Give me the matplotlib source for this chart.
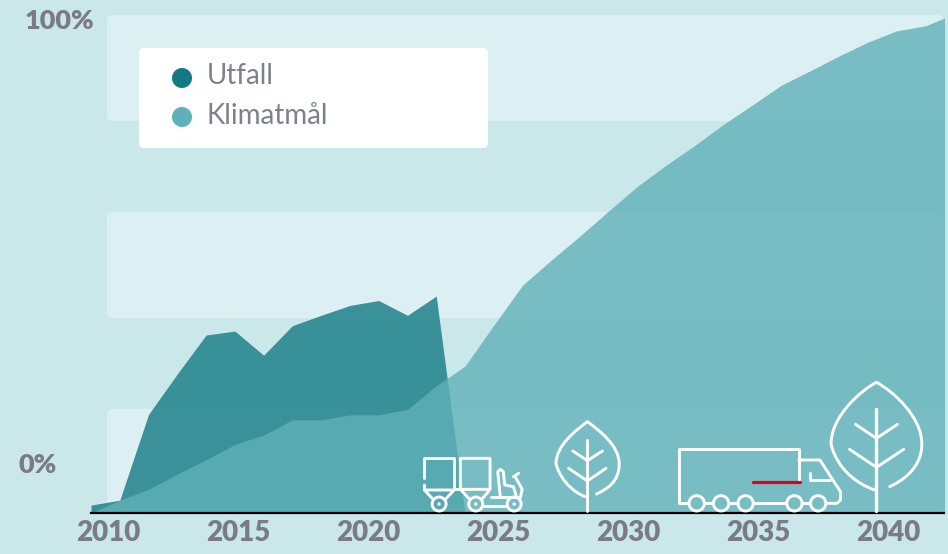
# -*- coding: utf-8 -*-
import matplotlib
matplotlib.use("Agg")
import matplotlib.pyplot as plt
from matplotlib.patches import Circle, FancyBboxPatch, PathPatch
from matplotlib.path import Path

# --- data ---
YEARS = list(range(2010, 2041))
UTFALL_YEARS = YEARS[:15]
UTFALL = [1.6, 2.6, 20.0, 28.2, 36.1, 36.9, 32.0, 38.0, 40.1, 42.1, 43.1, 40.1, 44.0, 0.0, 0.0]
KLIMATMAL = [0.0, 2.6, 4.8, 7.9, 10.8, 13.9, 15.8, 18.9, 18.9, 19.9, 19.9, 21.0, 25.8, 29.8,
             38.1, 46.2, 51.3, 56.2, 61.3, 66.3, 70.6, 74.6, 78.9, 82.8, 86.8, 89.7, 92.7,
             95.5, 97.8, 98.8, 101.2]
TICK_LABELS = ["2010", "2015", "2020", "2025", "2030", "2035", "2040"]
TICK_PX = [108, 238, 368, 498, 628, 758, 888]
LEGEND_LABELS = ["Utfall", "Klimatmål"]

# --- colours ---
BG = "#cae8ea"
BAND = "#dceff2"
C_UTFALL = "#137a84"
C_KLIMAT = "#5fb1b9"
C_TEXT = "#7a7b85"
C_LEGEND_TEXT = "#7c828b"
C_RED = "#e2001a"

W, H = 948, 554
AX_L, AX_R, AX_T, AX_B = 91, 944, 0, 513
PX_PER_YEAR = 28.77
PX_PER_PCT = 4.93

plt.rcParams["font.family"] = ["Lato", "DejaVu Sans"]

fig = plt.figure(figsize=(W / 100, H / 100), dpi=100, facecolor=BG)

# pixel canvas for bands, legend, labels and icons
bg_ax = fig.add_axes([0, 0, 1, 1], zorder=0)
bg_ax.set_xlim(0, W)
bg_ax.set_ylim(H, 0)
bg_ax.axis("off")

top_ax = fig.add_axes([0, 0, 1, 1], zorder=2)
top_ax.set_xlim(0, W)
top_ax.set_ylim(H, 0)
top_ax.axis("off")


def rounded(ax, x0, y0, x1, y1, color, r=6):
    ax.add_patch(FancyBboxPatch((x0 + r, y0 + r), x1 - x0 - 2 * r, y1 - y0 - 2 * r,
                                boxstyle=f"round,pad={r},rounding_size={r}",
                                fc=color, ec="none"))


for y0, y1 in [(15, 121), (212, 318), (409, 513)]:
    rounded(bg_ax, 107, y0, 944, y1, BAND)

# --- main chart ---
ax = fig.add_axes([AX_L / W, 1 - AX_B / H, (AX_R - AX_L) / W, (AX_B - AX_T) / H], zorder=1)
ax.patch.set_alpha(0)
ax.fill_between(UTFALL_YEARS, UTFALL, 0, color=C_UTFALL, alpha=0.8, lw=0)
ax.fill_between(YEARS, KLIMATMAL, 0, color=C_KLIMAT, alpha=0.8, lw=0)
ax.set_xlim(2010, 2010 + (AX_R - AX_L) / PX_PER_YEAR)
ax.set_ylim(0, (AX_B - AX_T) / PX_PER_PCT)
ax.set_yticks([])
# the labels are not aligned with the data years in the original
ax.set_xticks([2010 + (p - AX_L) / PX_PER_YEAR for p in TICK_PX])
ax.set_xticklabels(TICK_LABELS, fontsize=20, fontweight="heavy", color=C_TEXT)
ax.tick_params(axis="x", length=0, pad=5)
ax.spines[["top", "right", "left"]].set_visible(False)
ax.spines["bottom"].set_linewidth(1.6)
ax.spines["bottom"].set_color("black")

top_ax.text(94, 21, "100%", ha="right", va="center", fontsize=19.5, fontweight="heavy", color=C_TEXT)
top_ax.text(57, 465, "0%", ha="right", va="center", fontsize=19.5, fontweight="heavy", color=C_TEXT)

# --- legend ---
rounded(top_ax, 139, 48, 488, 148, "white", r=5)
for y, base, col, lab in zip([78, 117], [84, 124], [C_UTFALL, C_KLIMAT], LEGEND_LABELS):
    top_ax.add_patch(Circle((182, y), 10, fc=col, ec="none"))
    top_ax.text(207, base, lab, ha="left", va="baseline", fontsize=20, color=C_LEGEND_TEXT)

# --- icons, sketched in the crop coordinates of the lower right part ---
LW = 2.1


def zx(x):
    return 400 + x / 2.865


def zy(y):
    return 370 + y / 3


def stroke(pts, color="white", lw=LW):
    xs = [zx(p[0]) for p in pts]
    ys = [zy(p[1]) for p in pts]
    top_ax.plot(xs, ys, color=color, lw=lw, solid_capstyle="round", solid_joinstyle="round")


def ring(cx, cy, r, lw=LW):
    top_ax.add_patch(Circle((zx(cx), zy(cy)), r / 3, fc="none", ec="white", lw=lw))


def dot(cx, cy, r=5):
    top_ax.add_patch(Circle((zx(cx), zy(cy)), r / 3, fc="white", ec="none"))


def leaf(tip, right, right_end, left, left_end):
    # outline of the tree crown, open at the lower right
    verts = [left_end,
             (left[0] + 15, left_end[1] - (left_end[1] - left[1]) * 0.3), left, left,
             (left[0], left[1] - (left[1] - tip[1]) * 0.45), (tip[0] - (tip[0] - left[0]) * 0.35, tip[1] + 25), tip,
             (tip[0] + (right[0] - tip[0]) * 0.35, tip[1] + 25), (right[0], right[1] - (right[1] - tip[1]) * 0.45), right,
             (right[0], right[1] + (right_end[1] - right[1]) * 0.6), (right_end[0] + 30, right_end[1] - 15), right_end]
    verts = [(zx(x), zy(y)) for x, y in verts]
    codes = [Path.MOVETO] + [Path.CURVE4] * 12
    top_ax.add_patch(PathPatch(Path(verts, codes), fc="none", ec="white", lw=LW, capstyle="round"))


# carts and ride-on mower
stroke([(70, 325), (70, 265), (155, 265), (155, 358)])
stroke([(70, 345), (70, 360), (92, 385)])
stroke([(70, 360), (155, 360), (133, 385)])
stroke([(173, 358), (173, 265), (258, 265), (258, 358), (173, 358), (197, 385)])
stroke([(155, 358), (173, 358)])
stroke([(255, 362), (237, 385)])
ring(112, 402, 21)
dot(112, 402)
ring(217, 402, 21)
dot(217, 402)
ring(327, 402, 21)
dot(327, 402)
stroke([(240, 407), (305, 407)])
stroke([(262, 381), (345, 381)])
stroke([(287, 378), (280, 305), (288, 298), (296, 305), (300, 345), (325, 350), (333, 378)])
stroke([(325, 320), (340, 310)])
stroke([(330, 320), (350, 358), (345, 382)])

# small tree
leaf((537, 155), (628, 282), (563, 372), (447, 282), (530, 380))
stroke([(537, 210), (537, 423)])
stroke([(495, 243), (537, 272), (580, 243)])
stroke([(483, 295), (537, 333), (590, 295)])

# truck
stroke([(825, 400), (800, 400), (800, 237), (1143, 237), (1143, 333)])
stroke([(1143, 270), (1203, 270), (1262, 365), (1262, 390), (1252, 400), (1222, 400)])
stroke([(1175, 310), (1175, 330), (1232, 330)])
for a, b in [(873, 897), (943, 967), (1013, 1107), (1153, 1175)]:
    stroke([(a, 400), (b, 400)])
for cx in [850, 920, 990, 1130, 1198]:
    ring(cx, 400, 23)
stroke([(1012, 335), (1145, 335)], color=C_RED, lw=2.3)

# big tree
leaf((1365, 37), (1495, 222), (1403, 350), (1235, 222), (1360, 360))
stroke([(1365, 117), (1365, 423)], lw=2.4)
stroke([(1305, 163), (1365, 205), (1425, 163)])
stroke([(1288, 238), (1365, 292), (1443, 238)])

fig.savefig("out.png", dpi=100, facecolor=BG)
